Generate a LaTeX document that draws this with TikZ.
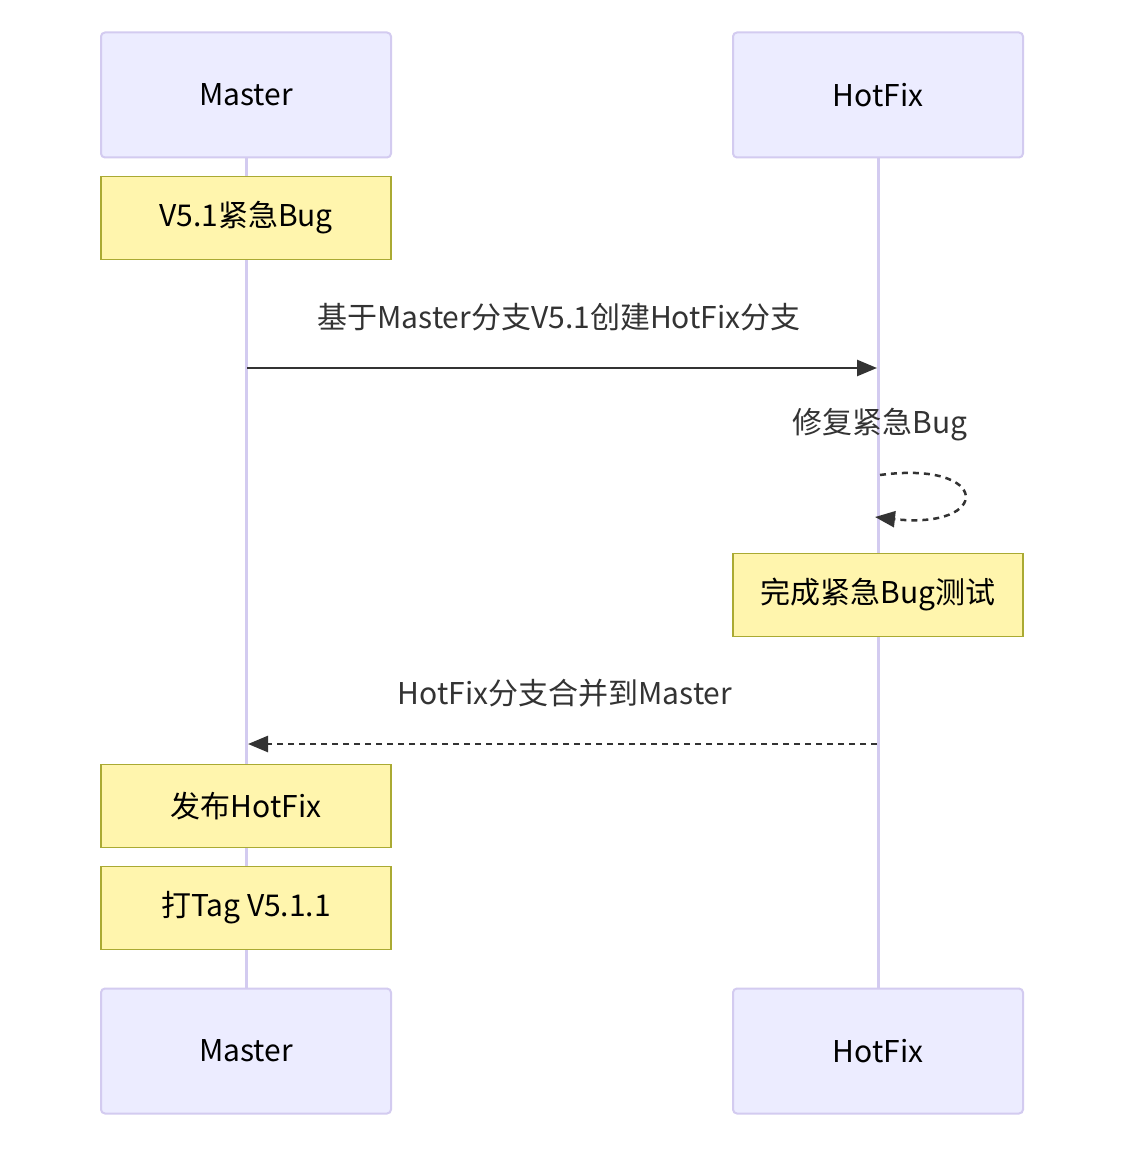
\documentclass[tikz,border=0pt]{standalone}
\usepackage{fontspec}
\setmainfont{Noto Sans CJK SC}
\usetikzlibrary{arrows.meta,backgrounds}
\definecolor{actfill}{HTML}{ECECFF}
\definecolor{actline}{HTML}{D3CBF0}
\definecolor{notefill}{HTML}{FFF5AD}
\definecolor{noteline}{HTML}{AAAA33}
\definecolor{msg}{HTML}{333333}
\begin{document}
\begin{tikzpicture}[x=1pt,y=-1pt,
  actor/.style={draw=actline,fill=actfill,line width=2pt,rounded corners=4pt,minimum width=290pt,minimum height=125pt,inner sep=0pt,font=\fontsize{30}{36}\selectfont},
  notebox/.style={draw=noteline,fill=notefill,line width=1.5pt,minimum width=290pt,minimum height=83pt,inner sep=0pt,font=\fontsize{30}{36}\selectfont},
  lifeline/.style={draw=actline,line width=3pt},
  msgline/.style={draw=msg,line width=2.5pt,-{Triangle[length=20pt,width=16pt]}},
  dashline/.style={dash pattern=on 6pt off 5pt},
  msglabel/.style={text=msg,font=\fontsize{30}{36}\selectfont,inner sep=0pt}]
\useasboundingbox (0,0) rectangle (1130,1150);
% actors
\node[actor] (mt) at (246,95) {Master};
\node[actor] (ht) at (878,95) {HotFix};
\node[actor] (mb) at (246,1051) {Master};
\node[actor] (hb) at (878,1051) {HotFix};
% notes
\node[notebox] (n1) at (246,218) {V5.1紧急Bug};
\node[notebox] (n2) at (878,595) {完成紧急Bug测试};
\node[notebox] (n3) at (246,806) {发布HotFix};
\node[notebox] (n4) at (246,908) {打Tag V5.1.1};
% lifelines
\begin{pgfonlayer}{background}
\fill[white] (0,0) rectangle (1130,1150);
\draw[lifeline] (mt.south) -- (mb.north);
\draw[lifeline] (ht.south) -- (hb.north);
\end{pgfonlayer}
% message 1
\coordinate (a1) at (247,368);
\coordinate (b1) at (877,368);
\draw[msgline] (a1) -- (b1);
\node[msglabel] (l1) at (559,317) {基于Master分支V5.1创建HotFix分支};
% self loop
\coordinate (a2) at (880,475);
\coordinate (b2) at (875,517);
\draw[msgline,dashline] (a2) .. controls (992,460) and (992,530) .. (b2);
\node[msglabel] (l2) at (880,425) {修复紧急Bug};
% message 3
\coordinate (a3) at (877,744);
\coordinate (b3) at (248,744);
\draw[msgline,dashline] (a3) -- (b3);
\node[msglabel] (l3) at (565,693) {HotFix分支合并到Master};
\end{tikzpicture}
\end{document}
